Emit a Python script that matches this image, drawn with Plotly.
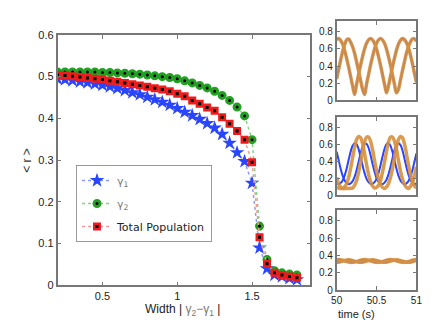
import plotly.graph_objects as go

# main panel: order parameter <r> against the width |gamma2 - gamma1|
width = [0.20, 0.25, 0.30, 0.35, 0.40, 0.45, 0.50, 0.55, 0.60, 0.65, 0.70,
         0.75, 0.80, 0.85, 0.90, 0.95, 1.00, 1.05, 1.10, 1.15, 1.20, 1.25,
         1.30, 1.35, 1.40, 1.45, 1.50, 1.55, 1.60, 1.65, 1.70, 1.75, 1.80]
r_gamma1 = [0.495, 0.493, 0.491, 0.488, 0.486, 0.483, 0.480, 0.476, 0.472, 0.467, 0.462,
            0.457, 0.451, 0.445, 0.439, 0.432, 0.424, 0.415, 0.407, 0.398, 0.388, 0.377,
            0.362, 0.341, 0.318, 0.297, 0.245, 0.090, 0.040, 0.025, 0.021, 0.017, 0.014]
r_gamma2 = [0.511, 0.511, 0.511, 0.511, 0.511, 0.511, 0.510, 0.510, 0.509, 0.508, 0.507,
            0.506, 0.504, 0.502, 0.500, 0.498, 0.495, 0.490, 0.485, 0.479, 0.473, 0.465,
            0.455, 0.443, 0.427, 0.406, 0.349, 0.142, 0.062, 0.035, 0.030, 0.027, 0.025]
r_total = [0.504, 0.503, 0.501, 0.499, 0.497, 0.495, 0.493, 0.490, 0.488, 0.485, 0.482,
           0.479, 0.476, 0.472, 0.469, 0.465, 0.459, 0.453, 0.443, 0.435, 0.426, 0.418,
           0.403, 0.387, 0.370, 0.349, 0.295, 0.115, 0.052, 0.030, 0.025, 0.021, 0.018]

# small panels: time series (s)
time = [50.000, 50.025, 50.050, 50.075, 50.100, 50.125, 50.150, 50.175, 50.200, 50.225,
        50.250, 50.275, 50.300, 50.325, 50.350, 50.375, 50.400, 50.425, 50.450, 50.475,
        50.500, 50.525, 50.550, 50.575, 50.600, 50.625, 50.650, 50.675, 50.700, 50.725,
        50.750, 50.775, 50.800, 50.825, 50.850, 50.875, 50.900, 50.925, 50.950, 50.975, 51.000]

top_a = [.708, .720, .700, .655, .585, .490, .390, .280, .170, .070,
         .190, .300, .410, .510, .600, .665, .705, .720, .705, .665,
         .600, .510, .410, .300, .190, .090, .170, .280, .390, .490,
         .585, .655, .700, .720, .708, .675, .615, .530, .430, .320, .210]
top_b = [.250, .360, .470, .570, .650, .705, .715, .680, .625, .550,
         .450, .345, .235, .130, .070, .190, .300, .410, .510, .600,
         .665, .705, .720, .705, .665, .600, .510, .410, .300, .190,
         .090, .130, .235, .345, .450, .550, .625, .680, .715, .718, .690]

mid_o1 = [.208, .135, .098, .080, .098, .135, .208, .312, .440, .562,
          .653, .690, .675, .605, .489, .361, .245, .159, .110, .086,
          .092, .117, .172, .269, .385, .513, .623, .681, .684, .635,
          .538, .409, .287, .190, .126, .092, .080, .104, .147, .226, .336]
mid_o2 = [.090, .085, .080, .080, .080, .080, .080, .082, .086, .117,
          .172, .269, .385, .513, .623, .681, .684, .635, .538, .409,
          .287, .190, .126, .092, .080, .098, .135, .208, .312, .440,
          .562, .653, .690, .675, .605, .489, .361, .245, .159, .110, .086]
mid_b1 = [.140, .130, .144, .173, .231, .312, .413, .509, .581, .610,
          .598, .543, .452, .351, .260, .192, .154, .135, .135, .154,
          .192, .260, .351, .452, .543, .598, .610, .581, .509, .413,
          .312, .231, .173, .144, .130, .140, .166, .216, .293, .389, .490]
mid_b2 = [.509, .413, .312, .231, .173, .144, .130, .140, .166, .216,
          .293, .389, .490, .567, .605, .603, .557, .471, .370, .279,
          .202, .159, .140, .130, .149, .183, .245, .332, .432, .528,
          .591, .610, .591, .528, .432, .332, .245, .183, .149, .130, .140]

bot_a = [.350, .352, .350, .345, .338, .330, .324, .320, .320, .323,
         .330, .338, .345, .350, .352, .350, .345, .338, .330, .324,
         .320, .320, .323, .330, .338, .345, .350, .352, .350, .345,
         .338, .330, .324, .320, .320, .323, .330, .338, .345, .350, .352]
bot_b = [.320, .322, .328, .335, .342, .348, .350, .348, .342, .335,
         .328, .322, .320, .322, .328, .335, .342, .348, .350, .348,
         .342, .335, .328, .322, .320, .322, .328, .335, .342, .348,
         .350, .348, .342, .335, .328, .322, .320, .322, .328, .335, .342]

W, H = 436, 327
FONT = 'Liberation Sans'
BLUE = '#2a45ff'
ORANGE = '#d8913f'

fig = go.Figure()

# main curves, dotted connecting lines + markers (black dot in the middle)
fig.add_trace(go.Scatter(x=width, y=r_gamma1, mode='lines+markers', name='<span style="color:#777">γ<sub>1</sub></span>',
                         legendgroup='a', line=dict(color='#8a9cff', width=1.5, dash='dot'),
                         marker=dict(symbol='star', size=11, color=BLUE, line=dict(width=0))))
fig.add_trace(go.Scatter(x=width, y=r_gamma2, mode='lines+markers', name='<span style="color:#777">γ<sub>2</sub></span>',
                         legendgroup='b', line=dict(color='#86d286', width=1.5, dash='dot'),
                         marker=dict(symbol='circle', size=6, color='black', line=dict(color='#22a022', width=3))))
fig.add_trace(go.Scatter(x=width, y=r_total, mode='lines+markers', name='Total Population',
                         legendgroup='c', line=dict(color='#f29a9a', width=1.5, dash='dot'),
                         marker=dict(symbol='square', size=5.5, color='black', line=dict(color='#ee1c1c', width=2.5))))

# right panels
panels = [('x2', 'y2', [top_a, top_b], [top_a, top_b]),
          ('x3', 'y3', [mid_o1, mid_o2], [mid_b1, mid_b2]),
          ('x4', 'y4', [bot_a, bot_b], [bot_a, bot_b])]
for xa, ya, oranges, blues in panels:
    for s in blues:
        fig.add_trace(go.Scatter(x=time, y=s, xaxis=xa, yaxis=ya, mode='lines', showlegend=False,
                                 line=dict(color=BLUE, width=2, shape='spline')))
    for s in oranges:
        fig.add_trace(go.Scatter(x=time, y=s, xaxis=xa, yaxis=ya, mode='lines', showlegend=False,
                                 line=dict(color=ORANGE, width=3.5, shape='spline'), opacity=0.9))

def px(v, total):
    return v / total

axis_common = dict(showline=True, linecolor='#777', linewidth=1.5, mirror='ticks', ticks='inside',
                   ticklen=4, tickcolor='#777', showgrid=False, zeroline=False,
                   tickfont=dict(family=FONT, size=11, color='#222'))

fig.update_layout(
    width=W, height=H, margin=dict(l=0, r=0, t=0, b=0),
    paper_bgcolor='white', plot_bgcolor='white',
    font=dict(family=FONT, size=11, color='#222'),
    xaxis=dict(axis_common, domain=[px(53, W), px(313, W)], range=[0.2, 1.89],
               tickvals=[0.5, 1, 1.5], ticktext=['0.5', '1', '1.5']),
    yaxis=dict(axis_common, domain=[1 - 290 / H, 1 - 30 / H], range=[0, 0.6],
               tickvals=[0, 0.1, 0.2, 0.3, 0.4, 0.5, 0.6]),
    showlegend=True,
    legend=dict(x=px(72, W), y=1 - 165 / H, xanchor='left', yanchor='top',
                bordercolor='#999', borderwidth=1, bgcolor='white',
                font=dict(family='DejaVu Sans', size=11, color='#222'), tracegroupgap=4, itemwidth=30),
)

small = dict(axis_common, tickfont=dict(family=FONT, size=10, color='#222'))
rows = [(16, 98), (115, 196.5), (212, 295)]
for i, (top, bot) in enumerate(rows):
    n = i + 2
    fig.layout['xaxis%d' % n] = dict(small, domain=[px(340, W), px(422, W)], range=[50, 51],
                                      anchor='y%d' % n, tickvals=[50, 50.5, 51],
                                      ticktext=['50', '50.5', '51'], showticklabels=(n == 4))
    fig.layout['yaxis%d' % n] = dict(small, domain=[1 - bot / H, 1 - top / H], range=[0, 0.92],
                                      anchor='x%d' % n, tickvals=[0, 0.2, 0.4, 0.6, 0.8],
                                      ticktext=['0', '0.2', '0.4', '0.6', '0.8'])

# axis titles
fig.add_annotation(x=px(12, W), y=1 - 160 / H, xref='paper', yref='paper', text='&lt; r &gt;',
                   textangle=-90, showarrow=False, font=dict(family=FONT, size=12, color='#333'))
fig.add_annotation(x=px(182, W), y=1 - 316 / H, xref='paper', yref='paper', yanchor='middle',
                   text='Width | <span style="color:#777">γ<sub>2</sub>−γ<sub>1</sub></span> |',
                   showarrow=False, font=dict(family=FONT, size=12, color='#222'))
fig.add_annotation(x=px(381, W), y=1 - 320 / H, xref='paper', yref='paper', yanchor='middle',
                   text='time (s)', showarrow=False, font=dict(family=FONT, size=11, color='#222'))

# the page body has a default 8px margin; drop it so the figure sits at the window origin
fig.write_html('out.html', config={'displayModeBar': False},
               post_script="document.body.style.margin='0px';")
